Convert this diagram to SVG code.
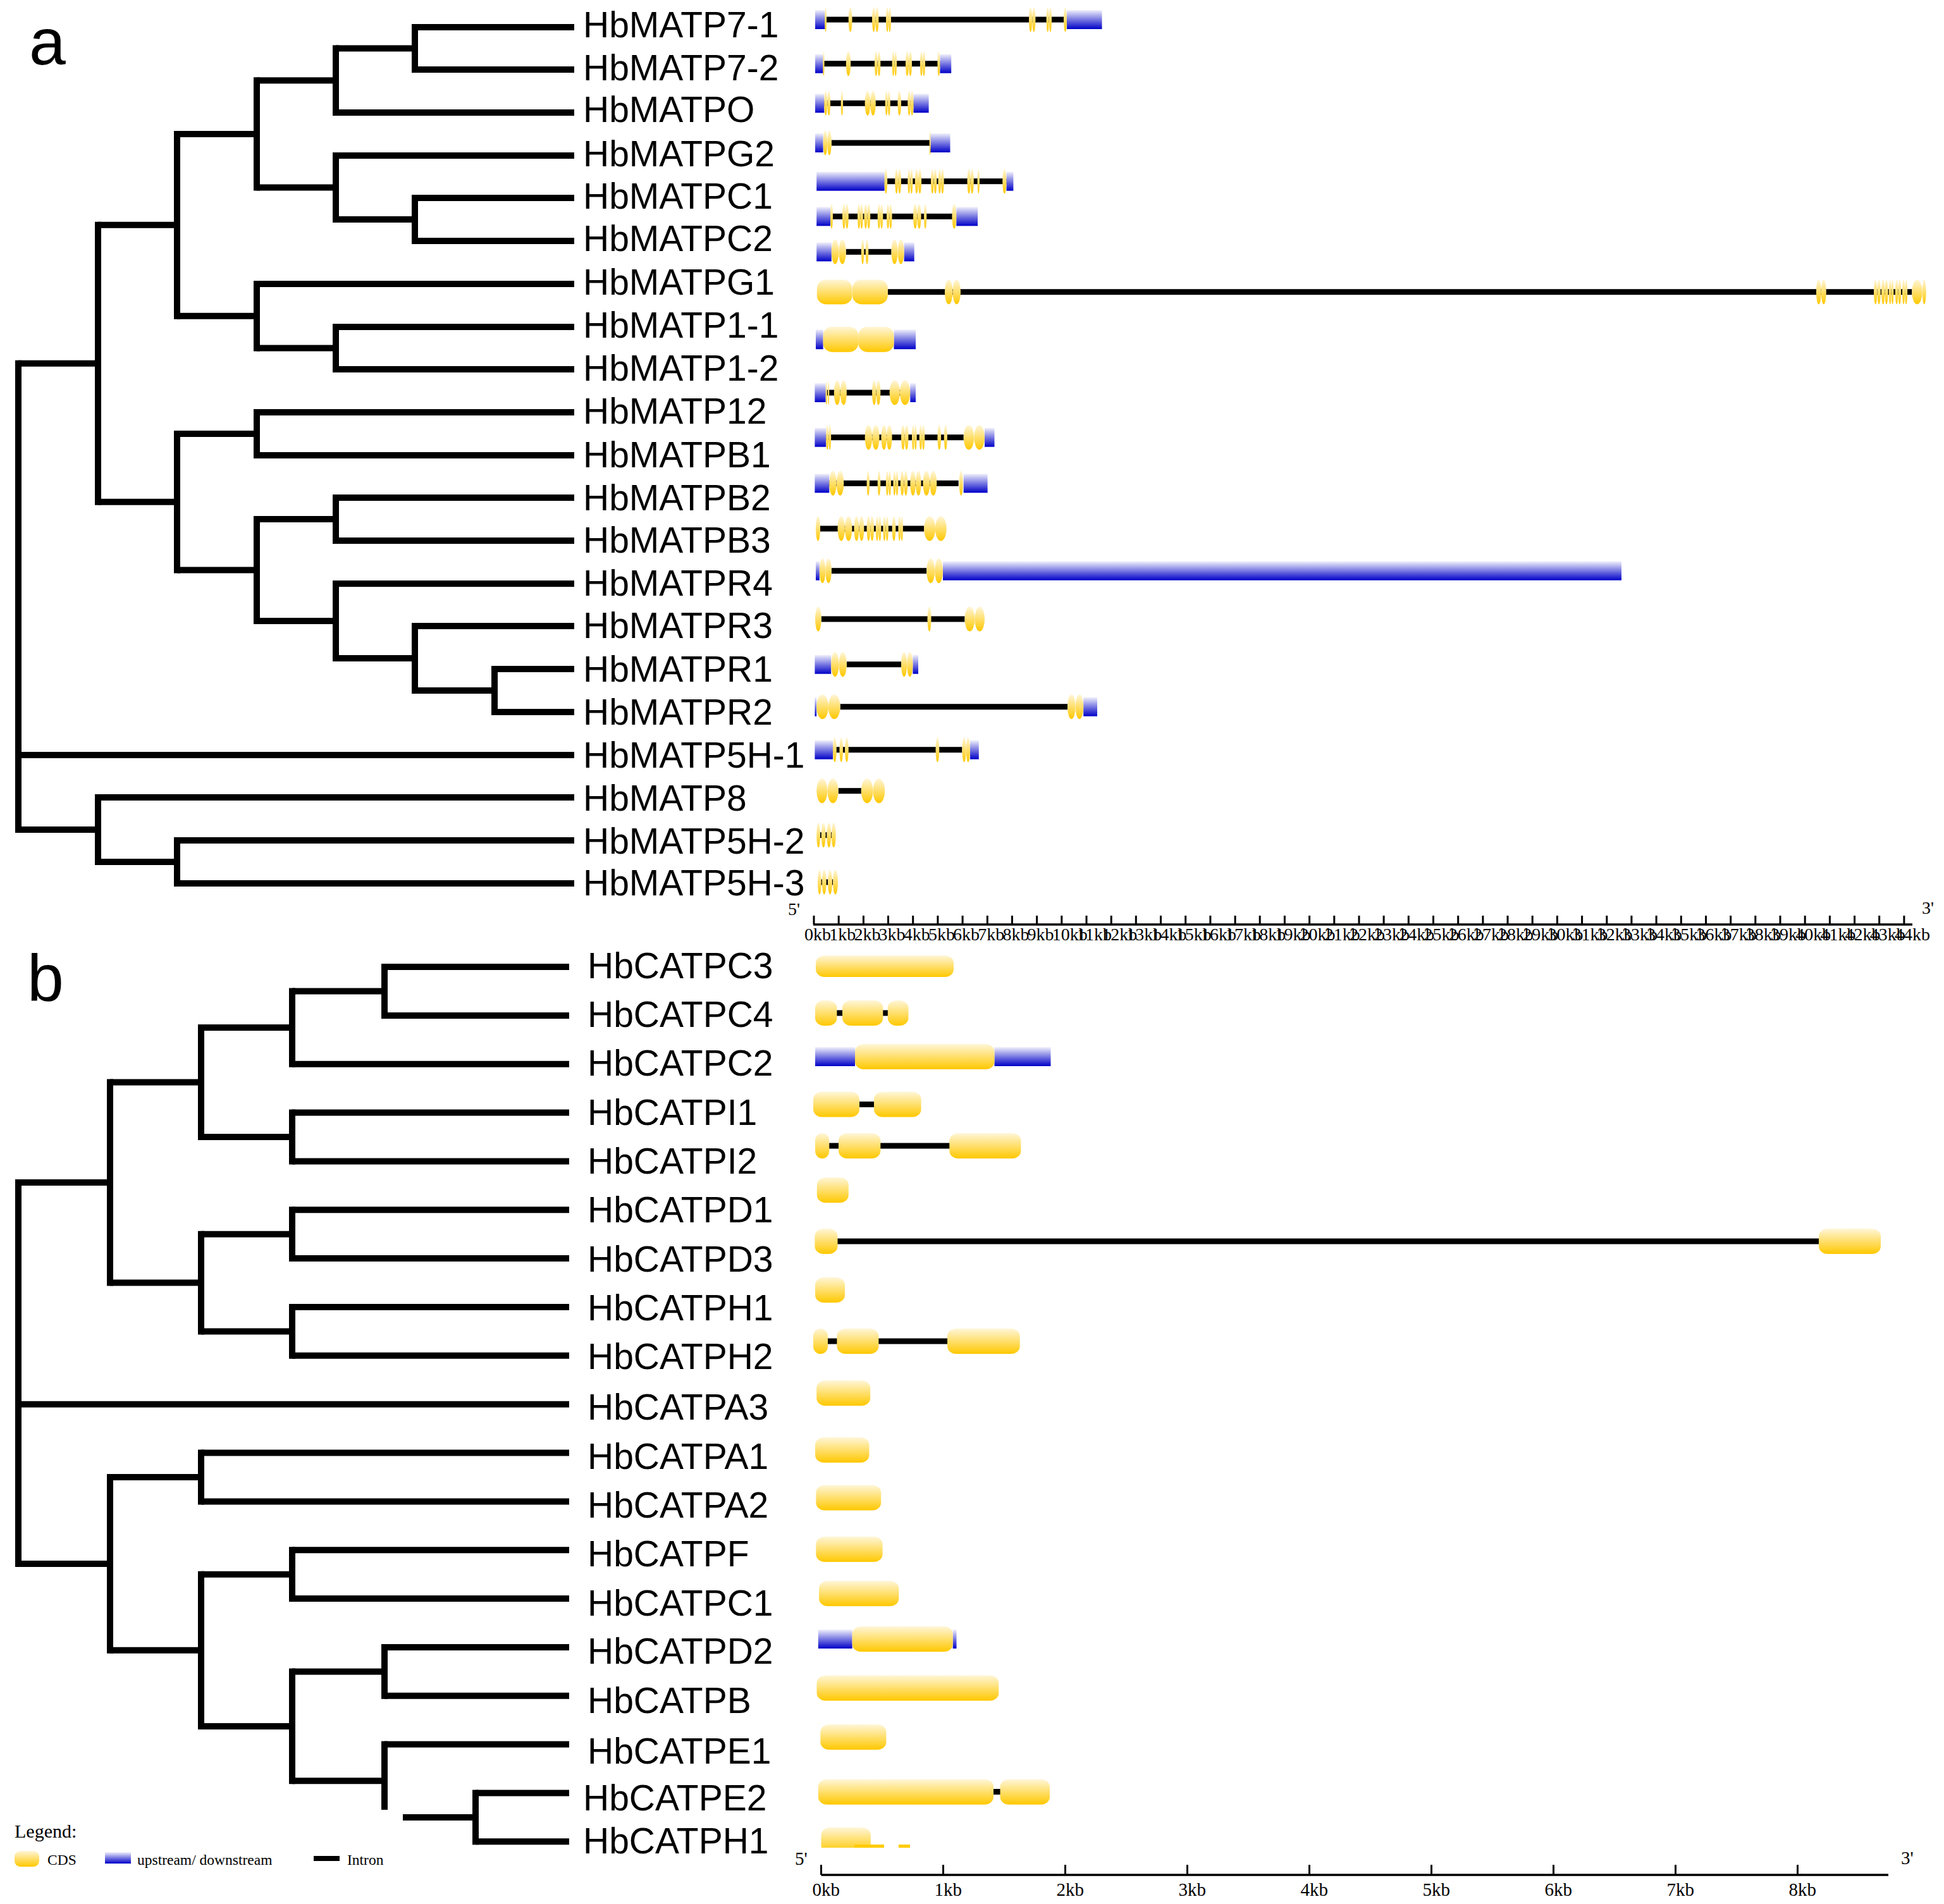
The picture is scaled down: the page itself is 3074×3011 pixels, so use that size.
<svg xmlns="http://www.w3.org/2000/svg" width="3074" height="3011" viewBox="0 0 3074 3011">
<defs>
<linearGradient id="gy" x1="0" y1="0" x2="0" y2="1"><stop offset="0" stop-color="#FFF6D8"/><stop offset="1" stop-color="#FFC800"/></linearGradient>
<linearGradient id="gb" x1="0" y1="0" x2="0" y2="1"><stop offset="0" stop-color="#F0F0FC"/><stop offset="1" stop-color="#0000C8"/></linearGradient>
<clipPath id="clipH1"><rect x="1280" y="2880" width="200" height="42"/></clipPath>
</defs>
<style>
.t{font-family:"Liberation Sans",Arial,sans-serif;font-size:57px;fill:#000}
.big{font-family:"Liberation Sans",Arial,sans-serif;font-size:104px;fill:#000}
.ax{font-family:"Liberation Serif","Times New Roman",serif;font-size:28px;fill:#000}
.axb{font-family:"Liberation Serif","Times New Roman",serif;font-size:29px;fill:#000}
.lg{font-family:"Liberation Serif","Times New Roman",serif;font-size:23.5px;fill:#000}
.v{stroke:#000;stroke-width:10;fill:none;stroke-linecap:square}
.h{stroke:#000;stroke-width:10;fill:none;stroke-linecap:butt}
.e{fill:url(#gy)}
.u{fill:url(#gb)}
.i{fill:#000}
.tk{stroke:#000;stroke-width:3;fill:none}
</style>
<rect width="3074" height="3011" fill="#fff"/>
<text class="big" x="46" y="102">a</text>
<text class="big" x="43" y="1582">b</text>

<g id="connectors">
<path class="v" d="M656 43V110 M531 76.5V178 M656 313V381 M531 246V347 M406 127.25V296.5 M531 517V584 M406 449V550.5 M280 211.9V499.75 M406 652V720 M531 787V855 M782 1058V1126 M656 990V1092 M531 923V1041 M406 821V982 M280 686V901.5 M155 355.8V793.75 M280 1329V1397 M155 1261V1363 M29 574.8V1312"/>
<path class="h" d="M656 43H908 M656 110H908 M531 76.5H656 M531 178H908 M406 127.25H531 M531 246H908 M656 313H908 M656 381H908 M531 347H656 M406 296.5H531 M280 211.9H406 M406 449H908 M531 517H908 M531 584H908 M406 550.5H531 M280 499.75H406 M155 355.8H280 M406 652H908 M406 720H908 M280 686H406 M531 787H908 M531 855H908 M406 821H531 M531 923H908 M656 990H908 M782 1058H908 M782 1126H908 M656 1092H782 M531 1041H656 M406 982H531 M280 901.5H406 M155 793.75H280 M29 574.8H155 M29 1194H908 M155 1261H908 M280 1329H908 M280 1397H908 M155 1363H280 M29 1312H155"/>
<path class="v" d="M608 1529V1605.9 M462 1567.5V1682.7 M462 1759.6V1836.4 M318 1625.1V1798 M462 1913.3V1990.1 M462 2067V2143.8 M318 1951.7V2105.4 M174 1711.5V2028.6 M318 2297.5V2374.4 M462 2451.2V2528.1 M608 2604.9V2681.8 M752 2835.5V2912.3 M462 2643.4V2816.3 M318 2489.7V2729.9 M174 2336V2609.8 M29 1870V2472.9"/>
<path class="h" d="M608 2753.6V2862"/>
<path class="h" d="M608 1529H900 M608 1605.9H900 M462 1567.5H608 M462 1682.7H900 M318 1625.1H462 M462 1759.6H900 M462 1836.4H900 M318 1798H462 M174 1711.5H318 M462 1913.3H900 M462 1990.1H900 M318 1951.7H462 M462 2067H900 M462 2143.8H900 M318 2105.4H462 M174 2028.6H318 M29 1870H174 M29 2220.7H900 M318 2297.5H900 M318 2374.4H900 M174 2336H318 M462 2451.2H900 M462 2528.1H900 M318 2489.7H462 M608 2604.9H900 M608 2681.8H900 M462 2643.4H608 M608 2758.6H900 M752 2835.5H900 M752 2912.3H900 M637 2873.9H752 M462 2816.3H608 M318 2729.9H462 M174 2609.8H318 M29 2472.9H174"/>
</g>

<!-- Panel a genes -->
<g id="HbMATP7-1"><text class="t" x="922" y="59">HbMATP7-1</text>
<rect class="i" x="1304" y="26.5" width="383" height="9"/>
<rect class="u" x="1289" y="16" width="15.5" height="30"/><rect class="u" x="1687" y="16" width="55.5" height="30"/>
<ellipse class="e" cx="1305.6" cy="31" rx="1.5" ry="19.5"/><ellipse class="e" cx="1344.6" cy="31" rx="2.9" ry="19.5"/><ellipse class="e" cx="1381.6" cy="31" rx="2.6" ry="19.5"/><ellipse class="e" cx="1386.8" cy="31" rx="2.6" ry="19.5"/><ellipse class="e" cx="1403" cy="31" rx="2" ry="19.5"/><ellipse class="e" cx="1407" cy="31" rx="2" ry="19.5"/><ellipse class="e" cx="1629.6" cy="31" rx="2.6" ry="19.5"/><ellipse class="e" cx="1634.8" cy="31" rx="2.6" ry="19.5"/><ellipse class="e" cx="1656.7" cy="31" rx="2.1" ry="19.5"/><ellipse class="e" cx="1660.9" cy="31" rx="2.1" ry="19.5"/><ellipse class="e" cx="1684.5" cy="31" rx="2.5" ry="19.5"/>
</g>
<g id="HbMATP7-2"><text class="t" x="922" y="126.5">HbMATP7-2</text>
<rect class="i" x="1301.6" y="96.2" width="185" height="9"/>
<rect class="u" x="1289" y="85.7" width="12.6" height="30"/><rect class="u" x="1486.4" y="85.7" width="17.8" height="30"/>
<ellipse class="e" cx="1302.4" cy="100.7" rx="1.2" ry="19.5"/><ellipse class="e" cx="1341.5" cy="100.7" rx="3.7" ry="19.5"/><ellipse class="e" cx="1385.3" cy="100.7" rx="2.3" ry="19.5"/><ellipse class="e" cx="1390" cy="100.7" rx="2.3" ry="19.5"/><ellipse class="e" cx="1412.5" cy="100.7" rx="1.9" ry="19.5"/><ellipse class="e" cx="1416.2" cy="100.7" rx="1.9" ry="19.5"/><ellipse class="e" cx="1434.5" cy="100.7" rx="2.5" ry="19.5"/><ellipse class="e" cx="1439.5" cy="100.7" rx="2.5" ry="19.5"/><ellipse class="e" cx="1456.9" cy="100.7" rx="2.05" ry="19.5"/><ellipse class="e" cx="1461" cy="100.7" rx="2.05" ry="19.5"/><ellipse class="e" cx="1484.4" cy="100.7" rx="2" ry="19.5"/>
</g>
<g id="HbMATPO"><text class="t" x="922" y="193">HbMATPO</text>
<rect class="i" x="1303.3" y="158.8" width="141.2" height="9"/>
<rect class="u" x="1289" y="148.3" width="14.3" height="30"/><rect class="u" x="1444.5" y="148.3" width="24.1" height="30"/>
<ellipse class="e" cx="1305.7" cy="163.3" rx="2.4" ry="19.5"/><ellipse class="e" cx="1310.6" cy="163.3" rx="2.4" ry="19.5"/><ellipse class="e" cx="1331.4" cy="163.3" rx="1.7" ry="19.5"/><ellipse class="e" cx="1371.9" cy="163.3" rx="4.3" ry="19.5"/><ellipse class="e" cx="1380.5" cy="163.3" rx="4.3" ry="19.5"/><ellipse class="e" cx="1401.7" cy="163.3" rx="2" ry="19.5"/><ellipse class="e" cx="1405.8" cy="163.3" rx="2" ry="19.5"/><ellipse class="e" cx="1422.2" cy="163.3" rx="2.8" ry="19.5"/><ellipse class="e" cx="1437.6" cy="163.3" rx="2.3" ry="19.5"/><ellipse class="e" cx="1442.2" cy="163.3" rx="2.3" ry="19.5"/>
</g>
<g id="HbMATPG2"><text class="t" x="922" y="262.5">HbMATPG2</text>
<rect class="i" x="1314.8" y="221.5" width="156.2" height="9"/>
<rect class="u" x="1289" y="211" width="12.6" height="30"/><rect class="u" x="1471" y="211" width="31.5" height="30"/>
<ellipse class="e" cx="1304.9" cy="226" rx="3.3" ry="19.5"/><ellipse class="e" cx="1311.5" cy="226" rx="3.3" ry="19.5"/><ellipse class="e" cx="1470.7" cy="226" rx="1" ry="19.5"/>
</g>
<g id="HbMATPC1"><text class="t" x="922" y="330">HbMATPC1</text>
<rect class="i" x="1398.6" y="282.2" width="193" height="9"/>
<rect class="u" x="1291.2" y="271.7" width="107.4" height="30"/><rect class="u" x="1591.5" y="271.7" width="10.9" height="30"/>
<ellipse class="e" cx="1400.9" cy="286.7" rx="2.3" ry="19.5"/><ellipse class="e" cx="1417.65" cy="286.7" rx="2.45" ry="19.5"/><ellipse class="e" cx="1422.55" cy="286.7" rx="2.45" ry="19.5"/><ellipse class="e" cx="1437.3" cy="286.7" rx="2" ry="19.5"/><ellipse class="e" cx="1441.4" cy="286.7" rx="2" ry="19.5"/><ellipse class="e" cx="1449.4" cy="286.7" rx="2.6" ry="19.5"/><ellipse class="e" cx="1454.5" cy="286.7" rx="2.6" ry="19.5"/><ellipse class="e" cx="1474.3" cy="286.7" rx="2.3" ry="19.5"/><ellipse class="e" cx="1479" cy="286.7" rx="2.3" ry="19.5"/><ellipse class="e" cx="1485.8" cy="286.7" rx="2.3" ry="19.5"/><ellipse class="e" cx="1490.4" cy="286.7" rx="2.3" ry="19.5"/><ellipse class="e" cx="1532.1" cy="286.7" rx="2.6" ry="19.5"/><ellipse class="e" cx="1537.2" cy="286.7" rx="2.6" ry="19.5"/><ellipse class="e" cx="1547.25" cy="286.7" rx="1.75" ry="19.5"/><ellipse class="e" cx="1588.35" cy="286.7" rx="3.15" ry="19.5"/>
</g>
<g id="HbMATPC2"><text class="t" x="922" y="397">HbMATPC2</text>
<rect class="i" x="1313" y="337.8" width="199.3" height="9"/>
<rect class="u" x="1291.2" y="327.3" width="21.8" height="30"/><rect class="u" x="1512.3" y="327.3" width="33.7" height="30"/>
<ellipse class="e" cx="1315" cy="342.3" rx="2" ry="19.5"/><ellipse class="e" cx="1334.45" cy="342.3" rx="2.45" ry="19.5"/><ellipse class="e" cx="1339.35" cy="342.3" rx="2.45" ry="19.5"/><ellipse class="e" cx="1358.2" cy="342.3" rx="2.2" ry="19.5"/><ellipse class="e" cx="1362.5" cy="342.3" rx="2.2" ry="19.5"/><ellipse class="e" cx="1368.85" cy="342.3" rx="2.45" ry="19.5"/><ellipse class="e" cx="1373.75" cy="342.3" rx="2.45" ry="19.5"/><ellipse class="e" cx="1389.85" cy="342.3" rx="2.15" ry="19.5"/><ellipse class="e" cx="1394.15" cy="342.3" rx="2.15" ry="19.5"/><ellipse class="e" cx="1404.15" cy="342.3" rx="2.15" ry="19.5"/><ellipse class="e" cx="1408.45" cy="342.3" rx="2.15" ry="19.5"/><ellipse class="e" cx="1447.15" cy="342.3" rx="3.15" ry="19.5"/><ellipse class="e" cx="1453.45" cy="342.3" rx="3.15" ry="19.5"/><ellipse class="e" cx="1463.1" cy="342.3" rx="2.1" ry="19.5"/><ellipse class="e" cx="1508.85" cy="342.3" rx="3.45" ry="19.5"/>
</g>
<g id="HbMATPG1"><text class="t" x="922" y="466">HbMATPG1</text>
<rect class="i" x="1337.7" y="393.8" width="71.8" height="9"/>
<rect class="u" x="1291.2" y="383.3" width="23.6" height="30"/><rect class="u" x="1429.6" y="383.3" width="16.1" height="30"/>
<ellipse class="e" cx="1320.5" cy="398.3" rx="5.7" ry="19.5"/><ellipse class="e" cx="1332" cy="398.3" rx="5.7" ry="19.5"/><ellipse class="e" cx="1364.1" cy="398.3" rx="2.3" ry="19.5"/><ellipse class="e" cx="1371" cy="398.3" rx="2.3" ry="19.5"/><ellipse class="e" cx="1414.5" cy="398.3" rx="5" ry="19.5"/><ellipse class="e" cx="1424.6" cy="398.3" rx="5" ry="19.5"/>
</g>
<g id="HbMATP1-1"><text class="t" x="922" y="533.5">HbMATP1-1</text>
<rect class="i" x="1403.8" y="457.2" width="1619.5" height="9"/>
<rect class="e" x="1291.8" y="442.2" width="55.7" height="39" rx="14" ry="14"/><rect class="e" x="1348" y="442.2" width="55.8" height="39" rx="14" ry="14"/>
<ellipse class="e" cx="1500.2" cy="461.7" rx="6.3" ry="19.5"/><ellipse class="e" cx="1512.7" cy="461.7" rx="6.3" ry="19.5"/><ellipse class="e" cx="2875.9" cy="461.7" rx="4" ry="19.5"/><ellipse class="e" cx="2883.8" cy="461.7" rx="4" ry="19.5"/><ellipse class="e" cx="2965.7" cy="461.7" rx="2.7" ry="19.5"/><ellipse class="e" cx="2971.1" cy="461.7" rx="2.7" ry="19.5"/><ellipse class="e" cx="2977.65" cy="461.7" rx="2.65" ry="19.5"/><ellipse class="e" cx="2982.95" cy="461.7" rx="2.65" ry="19.5"/><ellipse class="e" cx="2988.7" cy="461.7" rx="1.9" ry="19.5"/><ellipse class="e" cx="2992.5" cy="461.7" rx="1.9" ry="19.5"/><ellipse class="e" cx="2999.15" cy="461.7" rx="2.35" ry="19.5"/><ellipse class="e" cx="3003.85" cy="461.7" rx="2.35" ry="19.5"/><ellipse class="e" cx="3010.05" cy="461.7" rx="2.05" ry="19.5"/><ellipse class="e" cx="3014.15" cy="461.7" rx="2.05" ry="19.5"/><ellipse class="e" cx="3031.5" cy="461.7" rx="8.2" ry="19.5"/><ellipse class="e" cx="3042.75" cy="461.7" rx="2.95" ry="19.5"/>
</g>
<g id="HbMATP1-2"><text class="t" x="922" y="601.5">HbMATP1-2</text>
<rect class="u" x="1290" y="521.2" width="11.6" height="31"/><rect class="u" x="1413.5" y="521.2" width="34.5" height="31"/>
<rect class="e" x="1301.6" y="516.7" width="55.7" height="40" rx="14" ry="14"/><rect class="e" x="1357.3" y="516.7" width="56.2" height="40" rx="14" ry="14"/>
</g>
<g id="HbMATP12"><text class="t" x="922" y="669.5">HbMATP12</text>
<rect class="i" x="1305.6" y="616.5" width="133.7" height="9"/>
<rect class="u" x="1288.4" y="606" width="17.2" height="30"/><rect class="u" x="1439.3" y="606" width="8.7" height="30"/>
<ellipse class="e" cx="1306.75" cy="621" rx="1.15" ry="19.5"/><ellipse class="e" cx="1310.15" cy="621" rx="1.15" ry="19.5"/><ellipse class="e" cx="1323.8" cy="621" rx="5" ry="19.5"/><ellipse class="e" cx="1333.9" cy="621" rx="5" ry="19.5"/><ellipse class="e" cx="1382.3" cy="621" rx="3.3" ry="19.5"/><ellipse class="e" cx="1389" cy="621" rx="3.3" ry="19.5"/><ellipse class="e" cx="1414.8" cy="621" rx="8.2" ry="19.5"/><ellipse class="e" cx="1431.1" cy="621" rx="8.2" ry="19.5"/>
</g>
<g id="HbMATPB1"><text class="t" x="922" y="739">HbMATPB1</text>
<rect class="i" x="1306.2" y="687.2" width="217.5" height="9"/>
<rect class="u" x="1288.4" y="676.7" width="17.8" height="30"/><rect class="u" x="1557" y="676.7" width="15.5" height="30"/>
<ellipse class="e" cx="1308.2" cy="691.7" rx="2" ry="19.5"/><ellipse class="e" cx="1312.2" cy="691.7" rx="2" ry="19.5"/><ellipse class="e" cx="1373.35" cy="691.7" rx="5.75" ry="19.5"/><ellipse class="e" cx="1384.85" cy="691.7" rx="5.75" ry="19.5"/><ellipse class="e" cx="1397.7" cy="691.7" rx="4.3" ry="19.5"/><ellipse class="e" cx="1406.3" cy="691.7" rx="4.3" ry="19.5"/><ellipse class="e" cx="1427.9" cy="691.7" rx="2.9" ry="19.5"/><ellipse class="e" cx="1433.6" cy="691.7" rx="2.9" ry="19.5"/><ellipse class="e" cx="1443.9" cy="691.7" rx="1.9" ry="19.5"/><ellipse class="e" cx="1447.8" cy="691.7" rx="1.9" ry="19.5"/><ellipse class="e" cx="1455.85" cy="691.7" rx="2.15" ry="19.5"/><ellipse class="e" cx="1460.15" cy="691.7" rx="2.15" ry="19.5"/><ellipse class="e" cx="1485.25" cy="691.7" rx="2.85" ry="19.5"/><ellipse class="e" cx="1495.3" cy="691.7" rx="2.6" ry="19.5"/><ellipse class="e" cx="1532" cy="691.7" rx="8.3" ry="19.5"/><ellipse class="e" cx="1548.7" cy="691.7" rx="8.3" ry="19.5"/>
</g>
<g id="HbMATPB2"><text class="t" x="922" y="806.5">HbMATPB2</text>
<rect class="i" x="1311.3" y="759.8" width="204.4" height="9"/>
<rect class="u" x="1288.4" y="749.3" width="22.9" height="30"/><rect class="u" x="1523.7" y="749.3" width="37.9" height="30"/>
<ellipse class="e" cx="1317.05" cy="764.3" rx="5.75" ry="19.5"/><ellipse class="e" cx="1328.55" cy="764.3" rx="5.75" ry="19.5"/><ellipse class="e" cx="1372.75" cy="764.3" rx="2.25" ry="19.5"/><ellipse class="e" cx="1390" cy="764.3" rx="2.3" ry="19.5"/><ellipse class="e" cx="1402.9" cy="764.3" rx="2" ry="19.5"/><ellipse class="e" cx="1407" cy="764.3" rx="2" ry="19.5"/><ellipse class="e" cx="1414.4" cy="764.3" rx="2" ry="19.5"/><ellipse class="e" cx="1418.4" cy="764.3" rx="2" ry="19.5"/><ellipse class="e" cx="1426.7" cy="764.3" rx="2.9" ry="19.5"/><ellipse class="e" cx="1432.4" cy="764.3" rx="2.9" ry="19.5"/><ellipse class="e" cx="1443.6" cy="764.3" rx="4.3" ry="19.5"/><ellipse class="e" cx="1452.3" cy="764.3" rx="4.3" ry="19.5"/><ellipse class="e" cx="1464.9" cy="764.3" rx="5.5" ry="19.5"/><ellipse class="e" cx="1475.8" cy="764.3" rx="5.5" ry="19.5"/><ellipse class="e" cx="1519.7" cy="764.3" rx="3" ry="19.5"/>
</g>
<g id="HbMATPB3"><text class="t" x="922" y="873.5">HbMATPB3</text>
<rect class="i" x="1297" y="831.5" width="164.2" height="9"/>
<ellipse class="e" cx="1293.5" cy="836" rx="3.5" ry="19.5"/><ellipse class="e" cx="1330.25" cy="836" rx="5.75" ry="19.5"/><ellipse class="e" cx="1341.75" cy="836" rx="5.75" ry="19.5"/><ellipse class="e" cx="1354.4" cy="836" rx="4" ry="19.5"/><ellipse class="e" cx="1362.4" cy="836" rx="4" ry="19.5"/><ellipse class="e" cx="1373.4" cy="836" rx="2.9" ry="19.5"/><ellipse class="e" cx="1379.1" cy="836" rx="2.9" ry="19.5"/><ellipse class="e" cx="1386.95" cy="836" rx="2.15" ry="19.5"/><ellipse class="e" cx="1391.25" cy="836" rx="2.15" ry="19.5"/><ellipse class="e" cx="1398.45" cy="836" rx="2.15" ry="19.5"/><ellipse class="e" cx="1402.75" cy="836" rx="2.15" ry="19.5"/><ellipse class="e" cx="1413.5" cy="836" rx="2.9" ry="19.5"/><ellipse class="e" cx="1422.3" cy="836" rx="1.9" ry="19.5"/><ellipse class="e" cx="1426" cy="836" rx="1.9" ry="19.5"/><ellipse class="e" cx="1470.1" cy="836" rx="8.9" ry="19.5"/><ellipse class="e" cx="1487.8" cy="836" rx="8.9" ry="19.5"/>
</g>
<g id="HbMATPR4"><text class="t" x="922" y="942">HbMATPR4</text>
<rect class="i" x="1314.8" y="898.2" width="150.4" height="9"/>
<rect class="u" x="1290" y="887.7" width="5.8" height="30"/><rect class="u" x="1491" y="887.7" width="1073" height="30"/>
<ellipse class="e" cx="1300.55" cy="902.7" rx="4.75" ry="19.5"/><ellipse class="e" cx="1310.05" cy="902.7" rx="4.75" ry="19.5"/><ellipse class="e" cx="1471.65" cy="902.7" rx="6.45" ry="19.5"/><ellipse class="e" cx="1484.55" cy="902.7" rx="6.45" ry="19.5"/>
</g>
<g id="HbMATPR3"><text class="t" x="922" y="1009">HbMATPR3</text>
<rect class="i" x="1298.7" y="974.5" width="226.8" height="9"/>
<ellipse class="e" cx="1293.85" cy="979" rx="4.85" ry="19.5"/><ellipse class="e" cx="1469.5" cy="979" rx="3" ry="19.5"/><ellipse class="e" cx="1533.4" cy="979" rx="7.9" ry="19.5"/><ellipse class="e" cx="1549.1" cy="979" rx="7.9" ry="19.5"/>
</g>
<g id="HbMATPR1"><text class="t" x="922" y="1078">HbMATPR1</text>
<rect class="i" x="1338.9" y="1046.2" width="86.1" height="9"/>
<rect class="u" x="1288.4" y="1035.7" width="25.8" height="30"/><rect class="u" x="1443.4" y="1035.7" width="8.6" height="30"/>
<ellipse class="e" cx="1320.4" cy="1050.7" rx="6.2" ry="19.5"/><ellipse class="e" cx="1332.7" cy="1050.7" rx="6.2" ry="19.5"/><ellipse class="e" cx="1429.6" cy="1050.7" rx="4.6" ry="19.5"/><ellipse class="e" cx="1438.8" cy="1050.7" rx="4.6" ry="19.5"/>
</g>
<g id="HbMATPR2"><text class="t" x="922" y="1145.5">HbMATPR2</text>
<rect class="i" x="1328.6" y="1113.2" width="359.4" height="9"/>
<rect class="u" x="1288.4" y="1102.7" width="2.8" height="30"/><rect class="u" x="1713.2" y="1102.7" width="21.8" height="30"/>
<ellipse class="e" cx="1300.55" cy="1117.7" rx="9.35" ry="19.5"/><ellipse class="e" cx="1319.25" cy="1117.7" rx="9.35" ry="19.5"/><ellipse class="e" cx="1694.3" cy="1117.7" rx="6.3" ry="19.5"/><ellipse class="e" cx="1706.9" cy="1117.7" rx="6.3" ry="19.5"/>
</g>
<g id="HbMATP5H-1"><text class="t" x="922" y="1214">HbMATP5H-1</text>
<rect class="i" x="1317" y="1181.2" width="204.4" height="9"/>
<rect class="u" x="1288.4" y="1170.7" width="28.6" height="30"/><rect class="u" x="1534" y="1170.7" width="13.8" height="30"/>
<ellipse class="e" cx="1319.9" cy="1185.7" rx="2.9" ry="19.5"/><ellipse class="e" cx="1330.2" cy="1185.7" rx="2.8" ry="19.5"/><ellipse class="e" cx="1338.9" cy="1185.7" rx="2.9" ry="19.5"/><ellipse class="e" cx="1482.4" cy="1185.7" rx="2.9" ry="19.5"/><ellipse class="e" cx="1524.55" cy="1185.7" rx="3.15" ry="19.5"/><ellipse class="e" cx="1530.85" cy="1185.7" rx="3.15" ry="19.5"/>
</g>
<g id="HbMATP8"><text class="t" x="922" y="1282">HbMATP8</text>
<rect class="i" x="1325.7" y="1246.2" width="36.1" height="9"/>
<ellipse class="e" cx="1299.8" cy="1250.7" rx="8.6" ry="19.5"/><ellipse class="e" cx="1317.1" cy="1250.7" rx="8.6" ry="19.5"/><ellipse class="e" cx="1371.15" cy="1250.7" rx="9.35" ry="19.5"/><ellipse class="e" cx="1389.85" cy="1250.7" rx="9.35" ry="19.5"/>
</g>
<g id="HbMATP5H-2"><text class="t" x="922" y="1350">HbMATP5H-2</text>
<rect class="i" x="1296" y="1316.2" width="20" height="9"/>
<ellipse class="e" cx="1294.1" cy="1320.7" rx="2.9" ry="19.5"/><ellipse class="e" cx="1302.15" cy="1320.7" rx="3.45" ry="19.5"/><ellipse class="e" cx="1310.75" cy="1320.7" rx="3.45" ry="19.5"/><ellipse class="e" cx="1318.25" cy="1320.7" rx="3.45" ry="19.5"/>
</g>
<g id="HbMATP5H-3"><text class="t" x="922" y="1416">HbMATP5H-3</text>
<rect class="i" x="1298" y="1390.5" width="19" height="9"/>
<ellipse class="e" cx="1295.85" cy="1395" rx="2.85" ry="19.5"/><ellipse class="e" cx="1303.25" cy="1395" rx="3.45" ry="19.5"/><ellipse class="e" cx="1312.5" cy="1395" rx="3.5" ry="19.5"/><ellipse class="e" cx="1321" cy="1395" rx="4" ry="19.5"/>
</g>

<!-- Panel a axis -->
<g id="axis-a">
<text class="ax" x="1246" y="1447">5'</text>
<text class="ax" x="3039" y="1445">3'</text>
<path d="M1286 1462H3024" stroke="#000" stroke-width="3.5" fill="none"/>
<path class="tk" d="M1287 1448V1462 M1326.2 1448V1462 M1365.4 1448V1462 M1404.5 1448V1462 M1443.7 1448V1462 M1482.9 1448V1462 M1522.1 1448V1462 M1561.3 1448V1462 M1600.4 1448V1462 M1639.6 1448V1462 M1678.8 1448V1462 M1718 1448V1462 M1757.2 1448V1462 M1796.3 1448V1462 M1835.5 1448V1462 M1874.7 1448V1462 M1913.9 1448V1462 M1953.1 1448V1462 M1992.2 1448V1462 M2031.4 1448V1462 M2070.6 1448V1462 M2109.8 1448V1462 M2149 1448V1462 M2188.1 1448V1462 M2227.3 1448V1462 M2266.5 1448V1462 M2305.7 1448V1462 M2344.9 1448V1462 M2384 1448V1462 M2423.2 1448V1462 M2462.4 1448V1462 M2501.6 1448V1462 M2540.8 1448V1462 M2579.9 1448V1462 M2619.1 1448V1462 M2658.3 1448V1462 M2697.5 1448V1462 M2736.7 1448V1462 M2775.8 1448V1462 M2815 1448V1462 M2854.2 1448V1462 M2893.4 1448V1462 M2932.6 1448V1462 M2971.7 1448V1462 M3010.9 1448V1462"/>
<text class="ax" x="1272" y="1487">0kb</text><text class="ax" x="1311.2" y="1487">1kb</text><text class="ax" x="1350.4" y="1487">2kb</text><text class="ax" x="1389.5" y="1487">3kb</text><text class="ax" x="1428.7" y="1487">4kb</text><text class="ax" x="1467.9" y="1487">5kb</text><text class="ax" x="1507.1" y="1487">6kb</text><text class="ax" x="1546.3" y="1487">7kb</text><text class="ax" x="1585.4" y="1487">8kb</text><text class="ax" x="1624.6" y="1487">9kb</text><text class="ax" x="1663.8" y="1487">10kb</text><text class="ax" x="1703" y="1487">11kb</text><text class="ax" x="1742.2" y="1487">12kb</text><text class="ax" x="1781.3" y="1487">13kb</text><text class="ax" x="1820.5" y="1487">14kb</text><text class="ax" x="1859.7" y="1487">15kb</text><text class="ax" x="1898.9" y="1487">16kb</text><text class="ax" x="1938.1" y="1487">17kb</text><text class="ax" x="1977.2" y="1487">18kb</text><text class="ax" x="2016.4" y="1487">19kb</text><text class="ax" x="2055.6" y="1487">20kb</text><text class="ax" x="2094.8" y="1487">21kb</text><text class="ax" x="2134" y="1487">22kb</text><text class="ax" x="2173.1" y="1487">23kb</text><text class="ax" x="2212.3" y="1487">24kb</text><text class="ax" x="2251.5" y="1487">25kb</text><text class="ax" x="2290.7" y="1487">26kb</text><text class="ax" x="2329.9" y="1487">27kb</text><text class="ax" x="2369" y="1487">28kb</text><text class="ax" x="2408.2" y="1487">29kb</text><text class="ax" x="2447.4" y="1487">30kb</text><text class="ax" x="2486.6" y="1487">31kb</text><text class="ax" x="2525.8" y="1487">32kb</text><text class="ax" x="2564.9" y="1487">33kb</text><text class="ax" x="2604.1" y="1487">34kb</text><text class="ax" x="2643.3" y="1487">35kb</text><text class="ax" x="2682.5" y="1487">36kb</text><text class="ax" x="2721.7" y="1487">37kb</text><text class="ax" x="2760.8" y="1487">38kb</text><text class="ax" x="2800" y="1487">39kb</text><text class="ax" x="2839.2" y="1487">40kb</text><text class="ax" x="2878.4" y="1487">41kb</text><text class="ax" x="2917.6" y="1487">42kb</text><text class="ax" x="2956.7" y="1487">43kb</text><text class="ax" x="2995.9" y="1487">44kb</text>
</g>

<!-- Panel b genes -->
<g id="HbCATPC3"><text class="t" x="929" y="1546.5">HbCATPC3</text>
<rect class="e" x="1290" y="1511" width="218" height="34" rx="14" ry="12"/></g>
<g id="HbCATPC4"><text class="t" x="929" y="1624.3">HbCATPC4</text>
<rect class="i" x="1323" y="1597.5" width="81" height="9"/>
<rect class="e" x="1289" y="1582" width="34.4" height="40" rx="14" ry="12"/><rect class="e" x="1332" y="1582" width="64.3" height="40" rx="14" ry="12"/><rect class="e" x="1403.8" y="1582" width="32.7" height="40" rx="14" ry="12"/></g>
<g id="HbCATPC2"><text class="t" x="929" y="1701.4">HbCATPC2</text>
<rect class="u" x="1289" y="1656" width="63" height="30"/><rect class="u" x="1572.5" y="1656" width="89" height="30"/>
<rect class="e" x="1352" y="1651" width="220.5" height="40" rx="14" ry="12"/></g>
<g id="HbCATPI1"><text class="t" x="929" y="1778.5">HbCATPI1</text>
<rect class="i" x="1358" y="1742" width="25" height="9"/>
<rect class="e" x="1286" y="1726.5" width="73" height="40" rx="14" ry="12"/><rect class="e" x="1382" y="1726.5" width="74.6" height="40" rx="14" ry="12"/></g>
<g id="HbCATPI2"><text class="t" x="929" y="1856">HbCATPI2</text>
<rect class="i" x="1310" y="1807.5" width="192" height="9"/>
<rect class="e" x="1289" y="1792" width="22.3" height="40" rx="11" ry="12"/><rect class="e" x="1326" y="1792" width="66.3" height="40" rx="14" ry="12"/><rect class="e" x="1501.3" y="1792" width="113.1" height="40" rx="14" ry="12"/></g>
<g id="HbCATPD1"><text class="t" x="929" y="1933">HbCATPD1</text>
<rect class="e" x="1291.8" y="1862" width="50" height="40" rx="14" ry="12"/></g>
<g id="HbCATPD3"><text class="t" x="929" y="2010.6">HbCATPD3</text>
<rect class="i" x="1323" y="1958.5" width="1554" height="9"/>
<rect class="e" x="1288.4" y="1943" width="36.1" height="40" rx="14" ry="12"/><rect class="e" x="2876" y="1943" width="98" height="40" rx="14" ry="12"/></g>
<g id="HbCATPH1"><text class="t" x="929" y="2087.6">HbCATPH1</text>
<rect class="e" x="1289" y="2020" width="47" height="40" rx="14" ry="12"/></g>
<g id="HbCATPH2"><text class="t" x="929" y="2165">HbCATPH2</text>
<rect class="i" x="1308" y="2116.5" width="191" height="9"/>
<rect class="e" x="1286" y="2101" width="23" height="40" rx="11" ry="12"/><rect class="e" x="1323.4" y="2101" width="66" height="40" rx="14" ry="12"/><rect class="e" x="1498" y="2101" width="114.7" height="40" rx="14" ry="12"/></g>
<g id="HbCATPA3"><text class="t" x="929" y="2244.5">HbCATPA3</text>
<rect class="e" x="1291.2" y="2183" width="85" height="40" rx="14" ry="12"/></g>
<g id="HbCATPA1"><text class="t" x="929" y="2323">HbCATPA1</text>
<rect class="e" x="1289" y="2273" width="85.5" height="40" rx="14" ry="12"/></g>
<g id="HbCATPA2"><text class="t" x="929" y="2400">HbCATPA2</text>
<rect class="e" x="1290.3" y="2348.5" width="102.9" height="40" rx="14" ry="12"/></g>
<g id="HbCATPF"><text class="t" x="929" y="2477">HbCATPF</text>
<rect class="e" x="1290.3" y="2430" width="105.3" height="40" rx="14" ry="12"/></g>
<g id="HbCATPC1"><text class="t" x="929" y="2554.6">HbCATPC1</text>
<rect class="e" x="1295" y="2500" width="126.3" height="40" rx="14" ry="12"/></g>
<g id="HbCATPD2"><text class="t" x="929" y="2631">HbCATPD2</text>
<rect class="u" x="1293.8" y="2577" width="53.8" height="30"/><rect class="u" x="1506.7" y="2577" width="5.8" height="30"/>
<rect class="e" x="1347.6" y="2572" width="159.1" height="40" rx="14" ry="12"/></g>
<g id="HbCATPB"><text class="t" x="929" y="2709">HbCATPB</text>
<rect class="e" x="1291.5" y="2649.5" width="287.7" height="40" rx="14" ry="12"/></g>
<g id="HbCATPE1"><text class="t" x="929" y="2789">HbCATPE1</text>
<rect class="e" x="1297.3" y="2727" width="104.1" height="40" rx="14" ry="12"/></g>
<g id="HbCATPE2"><text class="t" x="922" y="2862.8">HbCATPE2</text>
<rect class="i" x="1570" y="2829" width="12.5" height="9"/>
<rect class="e" x="1293.8" y="2813.7" width="277.2" height="40" rx="14" ry="12"/><rect class="e" x="1581.5" y="2813.7" width="78.5" height="40" rx="14" ry="12"/></g>
<g id="HbCATPH1-2"><text class="t" x="922" y="2931">HbCATPH1</text>
<rect class="e" x="1298.5" y="2890" width="78.3" height="40" rx="14" ry="12" clip-path="url(#clipH1)"/>
<rect x="1351" y="2917" width="47" height="5" fill="#FFCC00"/><rect x="1421" y="2917" width="18" height="5" fill="#FFCC00"/></g>

<!-- Panel b axis -->
<g id="axis-b">
<text class="axb" x="1257" y="2949">5'</text>
<text class="axb" x="3006" y="2948">3'</text>
<path d="M1298.5 2965H2986" stroke="#000" stroke-width="3.5" fill="none"/>
<path class="tk" d="M1298.5 2949V2965 M1491.5 2949V2965 M1684.5 2949V2965 M1877.5 2949V2965 M2070.5 2949V2965 M2263.5 2949V2965 M2456.5 2949V2965 M2649.5 2949V2965 M2842.5 2949V2965"/>
<text class="axb" x="1284.5" y="2998">0kb</text><text class="axb" x="1477.5" y="2998">1kb</text><text class="axb" x="1670.5" y="2998">2kb</text><text class="axb" x="1863.5" y="2998">3kb</text><text class="axb" x="2056.5" y="2998">4kb</text><text class="axb" x="2249.5" y="2998">5kb</text><text class="axb" x="2442.5" y="2998">6kb</text><text class="axb" x="2635.5" y="2998">7kb</text><text class="axb" x="2828.5" y="2998">8kb</text>
</g>

<!-- Legend -->
<g id="legend">
<text class="lg" x="23" y="2906" style="font-size:30px">Legend:</text>
<rect class="e" x="23" y="2927" width="39" height="25" rx="9" ry="9"/>
<text class="lg" x="75" y="2949">CDS</text>
<rect class="u" x="166" y="2929" width="41" height="18"/>
<text class="lg" x="217" y="2949">upstream/ downstream</text>
<rect x="496" y="2935" width="41" height="8" fill="#000"/>
<text class="lg" x="549" y="2949">Intron</text>
</g>
</svg>
